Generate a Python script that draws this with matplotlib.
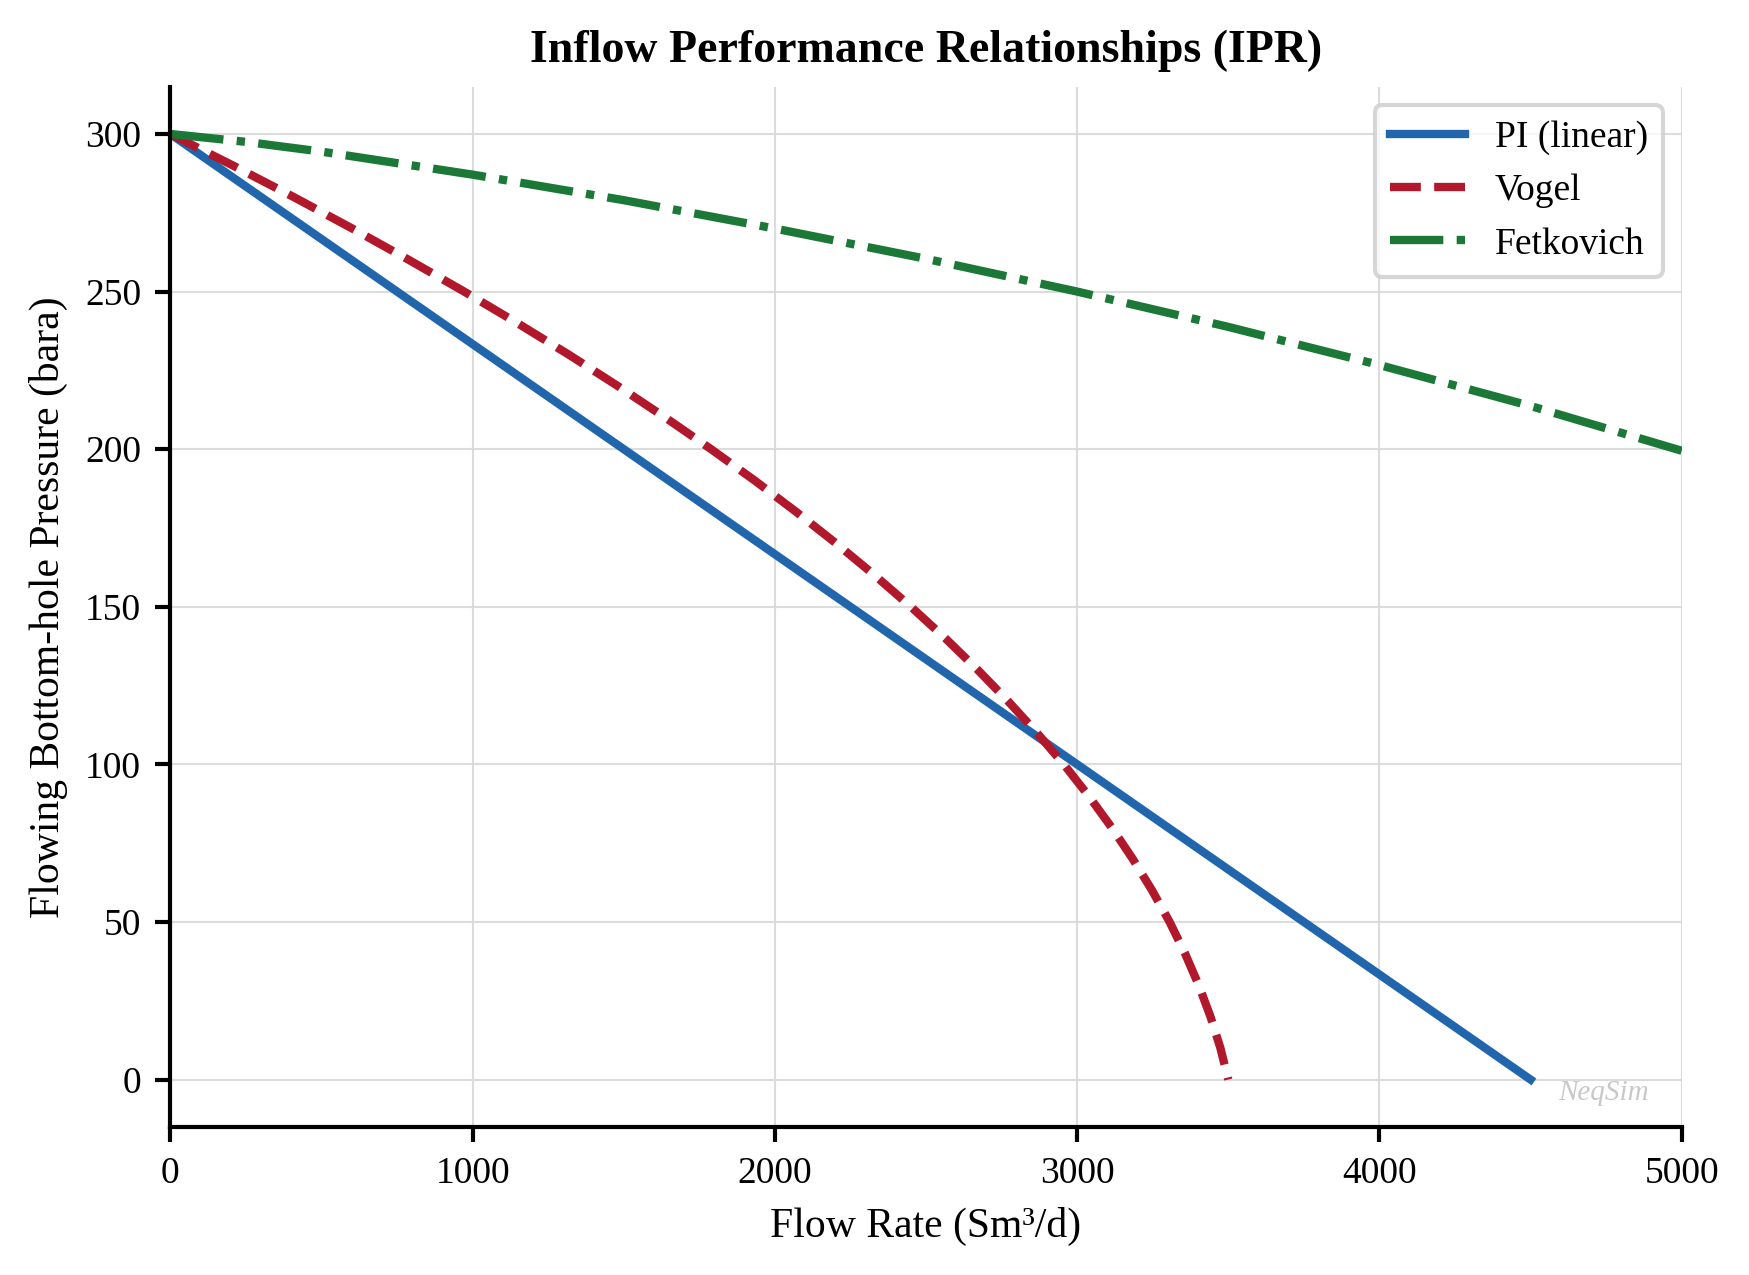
import matplotlib
matplotlib.use("Agg")
import matplotlib.pyplot as plt

plt.rcParams['font.family'] = ['Liberation Serif', 'DejaVu Serif']
plt.rcParams['mathtext.fontset'] = 'stix'

# ---- data ----
pi_q = [0, 4500]
pi_p = [300, 0]

vogel_p = [300, 290, 280, 270, 260, 250, 240, 230, 220, 210, 200, 190, 180, 170, 160,
           150, 140, 130, 120, 110, 100, 90, 80, 70, 60, 50, 40, 30, 20, 10, 0]
vogel_q = [0, 207, 408, 602, 790, 972, 1148, 1318, 1481, 1638, 1789, 1934, 2072, 2204, 2330,
           2450, 2564, 2671, 2772, 2867, 2956, 3038, 3114, 3184, 3248, 3306, 3357, 3402, 3441, 3474, 3500]

fet_q = [0, 250, 500, 1000, 1500, 2000, 2500, 3000, 3500, 4000, 4500, 5000]
fet_p = [300, 297.5, 294.4, 287.1, 279.0, 270.0, 260.4, 250.0, 238.8, 226.7, 213.7, 199.5]

series_labels = ['PI (linear)', 'Vogel', 'Fetkovich']
series_colors = ['#2166ac', '#b2182b', '#1b7837']

fig = plt.figure(figsize=(1749/300, 1275/300), dpi=300)
left, right, bottom, top = 0.0974, 0.9615, 0.1162, 0.932
ax = fig.add_axes([left, bottom, right - left, top - bottom])

ax.plot(pi_q, pi_p, color=series_colors[0], lw=2, ls='-', label=series_labels[0])
ax.plot(vogel_q, vogel_p, color=series_colors[1], lw=2, ls='--', label=series_labels[1])
ax.plot(fet_q, fet_p, color=series_colors[2], lw=2, ls='-.', label=series_labels[2])

ax.set_xlim(0, 5000)
ax.set_ylim(-15, 315)
ax.set_xticks([0, 1000, 2000, 3000, 4000, 5000])
ax.set_yticks([0, 50, 100, 150, 200, 250, 300])
ax.tick_params(labelsize=9, width=1, length=3.5)
ax.grid(True, color='#d9d9d9', lw=0.5, alpha=0.9)
ax.set_axisbelow(True)
for s in ['top', 'right']:
    ax.spines[s].set_visible(False)
for s in ['left', 'bottom']:
    ax.spines[s].set_linewidth(1.0)

ax.set_xlabel('Flow Rate (Sm³/d)', fontsize=10)
ax.set_ylabel('Flowing Bottom-hole Pressure (bara)', fontsize=10)
ax.set_title('Inflow Performance Relationships (IPR)', fontsize=11, fontweight='bold')

leg = ax.legend(loc='upper right', fontsize=9, frameon=True, fancybox=True)
leg.get_frame().set_edgecolor('#cccccc')

ax.text(0.978, 0.033, 'NeqSim', transform=ax.transAxes, ha='right', va='center',
        fontsize=7, style='italic', color='#bbbbbb', alpha=0.8)

fig.savefig('out.png', dpi=300)
